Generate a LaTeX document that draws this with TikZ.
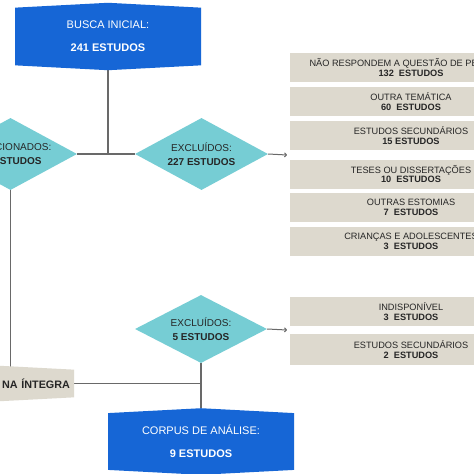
\documentclass[tikz,border=0pt]{standalone}
\usepackage{fontspec}
\setmainfont{Liberation Sans}
\usetikzlibrary{shapes.geometric,shapes.symbols,arrows.meta,positioning,backgrounds}

\definecolor{azul}{RGB}{22,102,214}
\definecolor{turquesa}{RGB}{118,205,212}
\definecolor{bege}{RGB}{221,217,206}
\definecolor{linha}{RGB}{105,105,105}
\definecolor{texto}{RGB}{38,38,38}

\tikzset{
  caixa/.style={signal, signal to=north and south, signal pointer angle=174,
    fill=azul, text=white, font=\fontsize{11}{23}\selectfont, align=center,
    minimum width=186pt, minimum height=62pt, inner sep=0pt},
  leitura/.style={caixa, fill=bege, text=texto, font=\fontsize{10.8}{13}\selectfont\bfseries,
    minimum height=37pt, text width=178pt, align=right},
  losango/.style={diamond, fill=turquesa, text=texto, font=\fontsize{10}{14}\selectfont,
    align=center, aspect=1.85, minimum width=133pt, minimum height=72pt, inner sep=0pt},
  motivo/.style={rectangle, fill=bege, text=texto, font=\fontsize{9.2}{9.6}\selectfont,
    align=center, minimum width=242pt, minimum height=29pt, inner sep=0pt},
  ligacao/.style={draw=linha, line width=1.3pt},
  seta/.style={draw=linha, line width=1pt, -{To[length=3pt,width=5pt]}},
}

\begin{document}
\begin{tikzpicture}[x=1pt,y=-1pt]
    \useasboundingbox (0,0) rectangle (474,474);
    \clip (0,0) rectangle (474,474);

    % caixas principais
    \node [caixa] (busca) at (108,36.5) {BUSCA INICIAL:\\\textbf{241 ESTUDOS}};
    \node [losango] (sel) at (10.5,154) {SELECIONADOS:\\\textbf{14 ESTUDOS}};
    \node [losango] (excl1) at (201.5,154) {EXCLUÍDOS:\\\textbf{227 ESTUDOS}};
    \node [losango, minimum width=132pt, minimum height=68pt] (excl2) at (201,329) {EXCLUÍDOS:\\\textbf{5 ESTUDOS}};
    \node [leitura] (integra) at (-19,383.5) {NA ÍNTEGRA};
    \node [caixa, minimum height=63pt] (corpus) at (201,441.5) {CORPUS DE ANÁLISE:\\\textbf{9 ESTUDOS}};

    % motivos de exclusao
    \node [motivo] (naoresp) at (411,67.5) {NÃO RESPONDEM A QUESTÃO DE PESQUISA\\\textbf{132~ ESTUDOS}};
    \node [motivo] (tematica) at (411,101.5) {OUTRA TEMÁTICA\\\textbf{60~ ESTUDOS}};
    \node [motivo] (secund) at (411,135.5) {ESTUDOS SECUNDÁRIOS\\\textbf{15 ESTUDOS}};
    \node [motivo] (teses) at (411,174) {TESES OU DISSERTAÇÕES\\\textbf{10~ ESTUDOS}};
    \node [motivo] (estomias) at (411,207.5) {OUTRAS ESTOMIAS\\\textbf{7~ ESTUDOS}};
    \node [motivo] (criancas) at (411,241.5) {CRIANÇAS E ADOLESCENTES\\\textbf{3~ ESTUDOS}};
    \node [motivo] (indisp) at (411,311.5) {INDISPONÍVEL\\\textbf{3~ ESTUDOS}};
    \node [motivo, minimum height=31pt] (secund2) at (411,349.5) {ESTUDOS SECUNDÁRIOS\\\textbf{2~ ESTUDOS}};

    \coordinate (alvo1) at (287,155);
    \coordinate (alvo2) at (287,330);

    \begin{pgfonlayer}{background}
        \fill[white] (0,0) rectangle (474,474);
        \draw[ligacao] (busca.south) -- (busca.south |- sel.east);
        \draw[ligacao] (sel.east) -- (excl1.west);
        \draw[ligacao] (sel.south) -- (sel.south |- integra.center);
        \draw[ligacao] (integra.east) -- (integra.east -| corpus.north);
        \draw[ligacao] (excl2.south) -- (corpus.north);
    \end{pgfonlayer}
    \draw[seta] (excl1.east) -- (alvo1);
    \draw[seta] (excl2.east) -- (alvo2);
\end{tikzpicture}
\end{document}
